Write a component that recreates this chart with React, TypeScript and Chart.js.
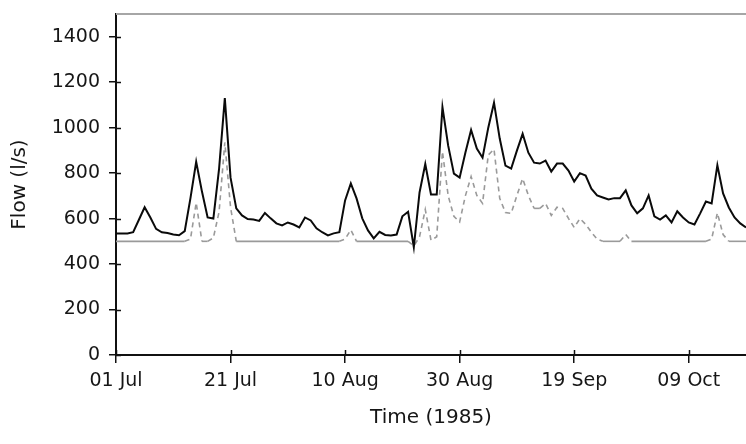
import React, { useEffect, useRef } from "react";
import { Chart, registerables } from "chart.js";

Chart.register(...registerables);

// Daily flow, 01 Jul 1985 (day 0) .. 19 Oct 1985 (day 110)
const totalFlow: number[] = [
  535, 535, 535, 540, 595, 650, 605, 555, 540, 537,
  530, 527, 545, 690, 850, 720, 605, 600, 820, 1130,
  780, 645, 614, 598, 596, 590, 625, 601, 579, 570,
  583, 574, 561, 605, 592, 557, 540, 526, 535, 540,
  680, 755, 689, 601, 548, 513, 542, 528, 526, 530,
  610, 630, 474, 715, 840, 706, 706, 1090, 921, 798,
  780, 890, 990, 908, 868, 1000, 1110, 952, 833, 820,
  899, 973, 890, 846, 842, 855, 807, 842, 842, 811,
  763, 800, 789, 732, 702, 693, 684, 690, 690, 724,
  658, 623, 645, 702, 610, 596, 614, 583, 632, 605,
  583, 574, 623, 675, 667, 835, 711, 649, 605, 579,
  561,
];

const componentFlow: number[] = [
  500, 500, 500, 500, 500, 500, 500, 500, 500, 500,
  500, 500, 500, 510, 670, 500, 500, 515, 630, 935,
  650, 500, 500, 500, 500, 500, 500, 500, 500, 500,
  500, 500, 500, 500, 500, 500, 500, 500, 500, 500,
  510, 550, 500, 500, 500, 500, 500, 500, 500, 500,
  500, 500, 480, 520, 640, 505, 520, 895, 700, 610,
  585, 700, 785, 702, 667, 880, 905, 689, 627, 623,
  702, 776, 702, 645, 645, 667, 614, 650, 645, 601,
  561, 600, 575, 540, 510, 500, 500, 500, 500, 530,
  500, 500, 500, 500, 500, 500, 500, 500, 500, 500,
  500, 500, 500, 500, 510, 625, 530, 500, 500, 500,
  500,
];

const xTickLabels: string[] = ["01 Jul", "21 Jul", "10 Aug", "30 Aug", "19 Sep", "09 Oct"];
const X_TICK_STEP = 20;
const X_MAX = 110;
const Y_MAX = 1500;
const Y_TICK_STEP = 200;

const FONT = "'DejaVu Sans', sans-serif";
const TEXT = "#161616";

const innerTicks = {
  id: "innerTicks",
  afterDraw(chart: any) {
    const { ctx, chartArea, scales } = chart;
    const x = scales.x;
    const y = scales.y;
    ctx.save();
    // top border
    ctx.strokeStyle = "#a6a6a6";
    ctx.lineWidth = 2;
    ctx.beginPath();
    ctx.moveTo(chartArea.left, chartArea.top);
    ctx.lineTo(chartArea.right, chartArea.top);
    ctx.stroke();
    // inner parts of ticks
    ctx.strokeStyle = "#111";
    ctx.lineWidth = 1.5;
    ctx.beginPath();
    y.ticks.forEach((t: any) => {
      const py = Math.round(y.getPixelForValue(t.value)) + 0.5;
      ctx.moveTo(chartArea.left, py);
      ctx.lineTo(chartArea.left + 5, py);
    });
    x.ticks.forEach((t: any) => {
      const px = Math.round(x.getPixelForValue(t.value)) + 0.5;
      ctx.moveTo(px, chartArea.bottom);
      ctx.lineTo(px, chartArea.bottom - 5);
    });
    ctx.stroke();
    ctx.restore();
  },
};

export default function App() {
  const ref = useRef<HTMLCanvasElement | null>(null);

  useEffect(() => {
    if (!ref.current) return;
    const chart = new Chart(ref.current, {
      type: "line",
      data: {
        datasets: [
          {
            label: "Total flow",
            data: totalFlow.map((v, i) => ({ x: i, y: v })),
            borderColor: "#0a0a0a",
            borderWidth: 2,
            pointRadius: 0,
            tension: 0,
            fill: false,
          },
          {
            label: "Component",
            data: componentFlow.map((v, i) => ({ x: i, y: v })),
            borderColor: "#9a9a9a",
            borderWidth: 1.6,
            pointRadius: 0,
            tension: 0,
            fill: false,
            segment: {
              borderDash: (c: any) => (c.p0.parsed.y === c.p1.parsed.y ? [] : [5, 4]),
            },
          },
        ],
      },
      options: {
        responsive: false,
        animation: false,
        events: [],
        layout: { padding: { top: 14, left: 0, right: 0, bottom: 0 } },
        plugins: { legend: { display: false }, tooltip: { enabled: false } },
        scales: {
          x: {
            type: "linear",
            min: 0,
            max: X_MAX,
            afterFit: (s: any) => {
              s.height = 89;
              s.paddingLeft = 0;
              s.paddingRight = 0;
            },
            border: { display: true, color: "#111", width: 2 },
            grid: { display: true, drawOnChartArea: false, drawTicks: true, tickLength: 8, color: "#111", lineWidth: 1.5 },
            ticks: {
              stepSize: X_TICK_STEP,
              includeBounds: false,
              autoSkip: false,
              maxRotation: 0,
              padding: 7,
              color: TEXT,
              font: { family: FONT, size: 19 },
              callback: (v: any) => {
                const idx = Number(v) / X_TICK_STEP;
                return Number.isInteger(idx) && idx < xTickLabels.length ? xTickLabels[idx] : "";
              },
            },
            title: {
              display: true,
              text: "Time (1985)",
              color: TEXT,
              font: { family: FONT, size: 20 },
              padding: { top: 0, bottom: 14 },
            },
          },
          y: {
            min: 0,
            max: Y_MAX,
            afterFit: (s: any) => {
              s.width = 116;
              s.paddingTop = 0;
              s.paddingBottom = 0;
            },
            border: { display: true, color: "#111", width: 2 },
            grid: { display: true, drawOnChartArea: false, drawTicks: true, tickLength: 7, color: "#111", lineWidth: 1.5 },
            ticks: {
              stepSize: Y_TICK_STEP,
              includeBounds: false,
              padding: 9,
              color: TEXT,
              font: { family: FONT, size: 19 },
              callback: (v: any) => String(v),
            },
            title: {
              display: true,
              text: "Flow (l/s)",
              color: TEXT,
              font: { family: FONT, size: 20 },
              padding: { top: 8, bottom: 0 },
            },
          },
        },
      },
      plugins: [innerTicks],
    });
    return () => chart.destroy();
  }, []);

  return (
    <div style={{ position: "fixed", left: 0, top: 0, width: 746, height: 444, background: "#fff" }}>
      <canvas ref={ref} width={746} height={444} style={{ display: "block", width: 746, height: 444 }} />
    </div>
  );
}
